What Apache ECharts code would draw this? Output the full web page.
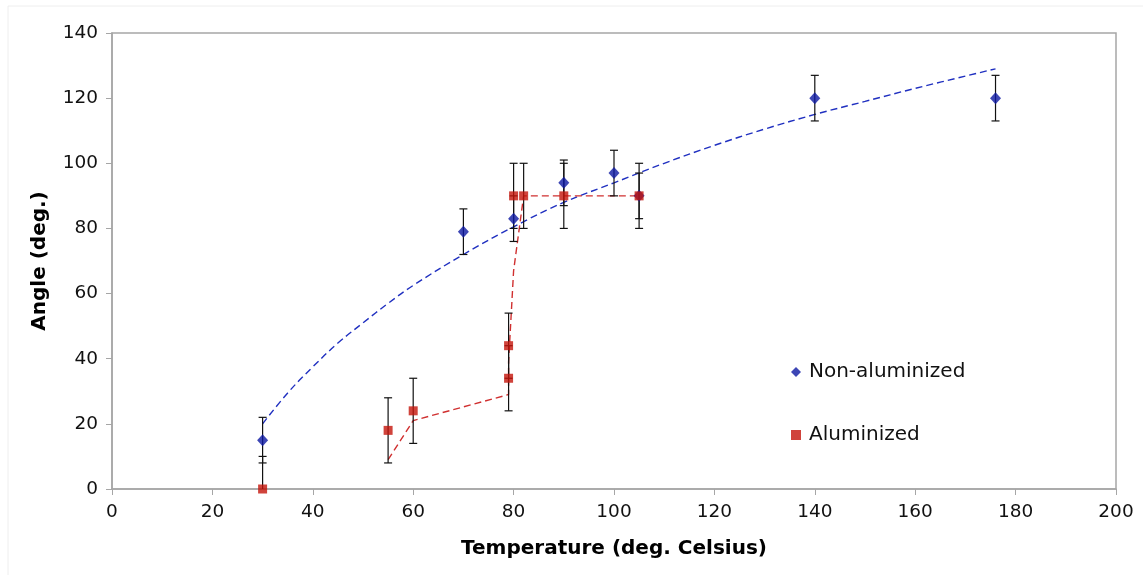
<!DOCTYPE html>
<html>
<head>
<meta charset="utf-8">
<script src="https://cdn.jsdelivr.net/npm/echarts@6/dist/echarts.min.js"></script>
<style>
  html, body { margin: 0; padding: 0; background: #fff; }
  #main { width: 1143px; height: 575px; }
</style>
</head>
<body>
<div id="main"></div>
<script>
// measured points [temperature, angle] and their +/- errors
var nonAlData = [[30, 15], [70, 79], [80, 83], [90, 94], [100, 97], [105, 90], [140, 120], [176, 120]];
var nonAlErr = [7, 7, 7, 7, 7, 7, 7, 7];
var alData = [[30, 0], [55, 18], [60, 24], [79, 34], [79, 44], [80, 90], [82, 90], [90, 90], [105, 90]];
var alErr = [10, 10, 10, 10, 10, 10, 10, 10, 10];
// trend lines
var nonAlTrend = [[30, 20], [35, 29.5], [40, 37.5], [45, 44.8], [50, 51], [55, 57], [60, 62.5], [70, 72], [80, 80.5],
  [90, 88], [100, 94], [110, 100], [120, 105.5], [130, 110.5], [140, 115], [150, 119], [160, 123], [176, 129]];
var alTrend = [[55, 9], [60, 21], [79, 29], [79, 39], [80, 67], [82, 90], [90, 90], [105, 90]];

var xTicks = { min: 0, max: 200, interval: 20 };
var yTicks = { min: 0, max: 140, interval: 20 };

var blue = '#0c18a2';
var red = '#c4140a';
var font = 'DejaVu Sans';

function errData(pts, errs) {
  return pts.map(function (p, i) { return [p[0], p[1] - errs[i], p[1] + errs[i]]; });
}

function renderErr(params, api) {
  var x = api.value(0);
  var lo = api.coord([x, Math.max(api.value(1), 0)]);
  var hi = api.coord([x, api.value(2)]);
  var w = 4;
  var st = { stroke: '#111', lineWidth: 1.2 };
  var children = [
    { type: 'line', shape: { x1: lo[0], y1: lo[1], x2: hi[0], y2: hi[1] }, style: st },
    { type: 'line', shape: { x1: hi[0] - w, y1: hi[1], x2: hi[0] + w, y2: hi[1] }, style: st }
  ];
  if (api.value(1) >= 0) {
    children.push({ type: 'line', shape: { x1: lo[0] - w, y1: lo[1], x2: lo[0] + w, y2: lo[1] }, style: st });
  }
  return { type: 'group', children: children };
}

var chart = echarts.init(document.getElementById('main'));
chart.setOption({
  animation: false,
  textStyle: { fontFamily: font },
  graphic: [{
    type: 'rect', shape: { x: 8, y: 6, width: 1140, height: 575 },
    style: { fill: 'none', stroke: '#eeeeee', lineWidth: 1 }, silent: true, z: -10
  }],
  grid: { left: 112, right: 27, top: 33, bottom: 86, show: true, borderColor: '#a6a6a6', borderWidth: 1.5 },
  legend: {
    orient: 'vertical', left: 786, top: 355, itemGap: 39,
    itemWidth: 10, itemHeight: 10,
    textStyle: { fontFamily: font, fontSize: 20, color: '#111', lineHeight: 24, padding: [0, 0, 0, 3] },
    data: [
      { name: 'Non-aluminized', icon: 'diamond', itemStyle: { color: blue } },
      { name: 'Aluminized', icon: 'rect', itemStyle: { color: red } }
    ]
  },
  xAxis: {
    type: 'value', min: xTicks.min, max: xTicks.max, interval: xTicks.interval,
    name: 'Temperature (deg. Celsius)', nameLocation: 'middle', nameGap: 50,
    nameTextStyle: { fontFamily: font, fontSize: 20, fontWeight: 'bold', color: '#000' },
    axisLine: { lineStyle: { color: '#a6a6a6', width: 1.5 } },
    axisTick: { show: true, length: 6, lineStyle: { color: '#a6a6a6' } },
    axisLabel: { fontSize: 18.5, color: '#111', margin: 14 },
    splitLine: { show: false }
  },
  yAxis: {
    type: 'value', min: yTicks.min, max: yTicks.max, interval: yTicks.interval,
    name: 'Angle (deg.)', nameLocation: 'middle', nameGap: 62, nameRotate: 90,
    nameTextStyle: { fontFamily: font, fontSize: 20, fontWeight: 'bold', color: '#000' },
    axisLine: { show: true, lineStyle: { color: '#a6a6a6', width: 1.5 } },
    axisTick: { show: true, length: 6, lineStyle: { color: '#a6a6a6' } },
    axisLabel: { fontSize: 18.5, color: '#111', margin: 14 },
    splitLine: { show: false }
  },
  series: [
    {
      name: 'Non-aluminized trend', type: 'line', data: nonAlTrend, smooth: 0.4, symbol: 'none',
      lineStyle: { color: '#2030c0', width: 1.4, type: [7, 4] }, z: 1, silent: true
    },
    {
      name: 'Aluminized trend', type: 'line', data: alTrend, symbol: 'none',
      lineStyle: { color: '#d03030', width: 1.4, type: [7, 4] }, z: 1, silent: true
    },
    { name: 'nonAlErr', type: 'custom', renderItem: renderErr, data: errData(nonAlData, nonAlErr), z: 2, silent: true },
    { name: 'alErr', type: 'custom', renderItem: renderErr, data: errData(alData, alErr), z: 2, silent: true },
    {
      name: 'Non-aluminized', type: 'scatter', data: nonAlData, symbol: 'diamond', symbolSize: [11, 12],
      itemStyle: { color: blue }, z: 3
    },
    {
      name: 'Aluminized', type: 'scatter', data: alData, symbol: 'rect', symbolSize: 9,
      itemStyle: { color: red }, z: 4
    }
  ]
});
</script>
</body>
</html>
